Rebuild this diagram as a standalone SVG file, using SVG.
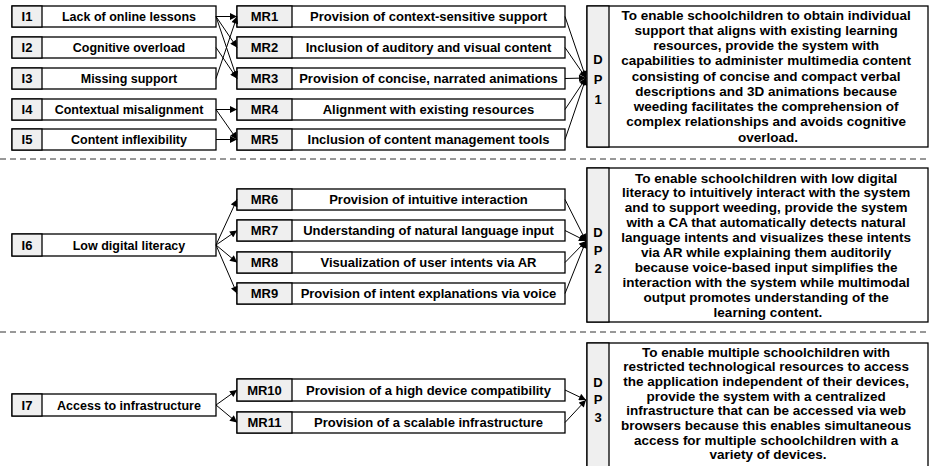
<svg xmlns="http://www.w3.org/2000/svg" width="930" height="466" viewBox="0 0 930 466">
  <style>
    text { font-family: "Liberation Sans", Arial, sans-serif; font-weight: bold; font-size: 13px; fill: #000; }
    .c { text-anchor: middle; }
    .it { font-size: 12.5px; }
    .dp { font-size: 13.5px; }
    .box { fill: #fff; stroke: #000; stroke-width: 1.3; }
    .id { fill: #efefef; stroke: #000; stroke-width: 1.3; }
    .sep { stroke: #333; stroke-width: 1; stroke-dasharray: 6 4; fill: none; }
    .con { stroke: #000; stroke-width: 1; fill: none; marker-end: url(#arr); }
  </style>
  <defs>
    <marker id="arr" viewBox="0 0 10 10" refX="10" refY="5" markerWidth="8" markerHeight="7" markerUnits="userSpaceOnUse" orient="auto">
      <path d="M0,0 L10,5 L0,10 z" fill="#000"/>
    </marker>
  </defs>
  <rect width="930" height="466" fill="#fff"/>

  <!-- section separators -->
  <line class="sep" x1="0" y1="159" x2="930" y2="159"/>
  <line class="sep" x1="0" y1="332" x2="930" y2="332"/>

  <!-- issues -->
  <g id="I1"><rect class="box" x="12" y="6" width="204" height="21"/><rect class="id" x="12" y="6" width="30" height="21"/><text class="c" x="27" y="21">I1</text><text class="c it" x="129" y="21">Lack of online lessons</text></g>
  <g id="I2"><rect class="box" x="12" y="37" width="204" height="21"/><rect class="id" x="12" y="37" width="30" height="21"/><text class="c" x="27" y="52">I2</text><text class="c it" x="129" y="52">Cognitive overload</text></g>
  <g id="I3"><rect class="box" x="12" y="68" width="204" height="21"/><rect class="id" x="12" y="68" width="30" height="21"/><text class="c" x="27" y="83">I3</text><text class="c it" x="129" y="83">Missing support</text></g>
  <g id="I4"><rect class="box" x="12" y="99" width="204" height="21"/><rect class="id" x="12" y="99" width="30" height="21"/><text class="c" x="27" y="114">I4</text><text class="c it" x="129" y="114">Contextual misalignment</text></g>
  <g id="I5"><rect class="box" x="12" y="129" width="204" height="21"/><rect class="id" x="12" y="129" width="30" height="21"/><text class="c" x="27" y="144">I5</text><text class="c it" x="129" y="144">Content inflexibility</text></g>
  <g id="I6"><rect class="box" x="12" y="234" width="204" height="22"/><rect class="id" x="12" y="234" width="30" height="22"/><text class="c" x="27" y="249.5">I6</text><text class="c it" x="129" y="249.5">Low digital literacy</text></g>
  <g id="I7"><rect class="box" x="12" y="394" width="204" height="22"/><rect class="id" x="12" y="394" width="30" height="22"/><text class="c" x="27" y="409.5">I7</text><text class="c it" x="129" y="409.5">Access to infrastructure</text></g>

  <!-- meta-requirements -->
  <g id="MR1"><rect class="box" x="237" y="6" width="328" height="21"/><rect class="id" x="237" y="6" width="55" height="21"/><text class="c" x="264.5" y="21">MR1</text><text class="c" x="428.5" y="21">Provision of context-sensitive support</text></g>
  <g id="MR2"><rect class="box" x="237" y="37" width="328" height="21"/><rect class="id" x="237" y="37" width="55" height="21"/><text class="c" x="264.5" y="52">MR2</text><text class="c" x="428.5" y="52">Inclusion of auditory and visual content</text></g>
  <g id="MR3"><rect class="box" x="237" y="68" width="328" height="21"/><rect class="id" x="237" y="68" width="55" height="21"/><text class="c" x="264.5" y="83">MR3</text><text class="c" x="428.5" y="83">Provision of concise, narrated animations</text></g>
  <g id="MR4"><rect class="box" x="237" y="99" width="328" height="21"/><rect class="id" x="237" y="99" width="55" height="21"/><text class="c" x="264.5" y="114">MR4</text><text class="c" x="428.5" y="114">Alignment with existing resources</text></g>
  <g id="MR5"><rect class="box" x="237" y="129" width="328" height="21"/><rect class="id" x="237" y="129" width="55" height="21"/><text class="c" x="264.5" y="144">MR5</text><text class="c" x="428.5" y="144">Inclusion of content management tools</text></g>
  <g id="MR6"><rect class="box" x="237" y="189" width="328" height="21"/><rect class="id" x="237" y="189" width="55" height="21"/><text class="c" x="264.5" y="204">MR6</text><text class="c" x="428.5" y="204">Provision of intuitive interaction</text></g>
  <g id="MR7"><rect class="box" x="237" y="220" width="328" height="21"/><rect class="id" x="237" y="220" width="55" height="21"/><text class="c" x="264.5" y="235">MR7</text><text class="c" x="428.5" y="235">Understanding of natural language input</text></g>
  <g id="MR8"><rect class="box" x="237" y="252" width="328" height="21"/><rect class="id" x="237" y="252" width="55" height="21"/><text class="c" x="264.5" y="267">MR8</text><text class="c" x="428.5" y="267">Visualization of user intents via AR</text></g>
  <g id="MR9"><rect class="box" x="237" y="283" width="328" height="21"/><rect class="id" x="237" y="283" width="55" height="21"/><text class="c" x="264.5" y="298">MR9</text><text class="c" x="428.5" y="298">Provision of intent explanations via voice</text></g>
  <g id="MR10"><rect class="box" x="237" y="379" width="328" height="22"/><rect class="id" x="237" y="379" width="55" height="22"/><text class="c" x="264.5" y="394.5">MR10</text><text class="c" x="428.5" y="394.5">Provision of a high device compatibility</text></g>
  <g id="MR11"><rect class="box" x="237" y="412" width="328" height="21"/><rect class="id" x="237" y="412" width="55" height="21"/><text class="c" x="264.5" y="427">MR11</text><text class="c" x="428.5" y="427">Provision of a scalable infrastructure</text></g>

  <!-- design principles -->
  <g id="DP1">
    <rect class="box" x="587" y="6" width="341" height="141"/><rect class="id" x="587" y="6" width="22" height="141"/>
    <text class="c" x="598" y="64">D</text><text class="c" x="598" y="84">P</text><text class="c" x="598" y="104">1</text>
    <text class="c dp" x="768">
      <tspan x="768" y="19.5">To enable schoolchildren to obtain individual</tspan>
      <tspan x="768" y="34.75">support that aligns with existing learning</tspan>
      <tspan x="768" y="50">resources, provide the system with</tspan>
      <tspan x="768" y="65.25">capabilities to administer multimedia content</tspan>
      <tspan x="768" y="80.5">consisting of concise and compact verbal</tspan>
      <tspan x="768" y="95.75">descriptions and 3D animations because</tspan>
      <tspan x="768" y="111">weeding facilitates the comprehension of</tspan>
      <tspan x="768" y="126.25">complex relationships and avoids cognitive</tspan>
      <tspan x="768" y="141.5">overload.</tspan>
    </text>
  </g>
  <g id="DP2">
    <rect class="box" x="587" y="168" width="341" height="154"/><rect class="id" x="587" y="168" width="22" height="154"/>
    <text class="c" x="598" y="236.5">D</text><text class="c" x="598" y="254.5">P</text><text class="c" x="598" y="272.5">2</text>
    <text class="c dp" x="768">
      <tspan x="768" y="182.5">To enable schoolchildren with low digital</tspan>
      <tspan x="768" y="197.4">literacy to intuitively interact with the system</tspan>
      <tspan x="768" y="212.3">and to support weeding, provide the system</tspan>
      <tspan x="768" y="227.2">with a CA that automatically detects natural</tspan>
      <tspan x="768" y="242.1">language intents and visualizes these intents</tspan>
      <tspan x="768" y="257">via AR while explaining them auditorily</tspan>
      <tspan x="768" y="271.9">because voice-based input simplifies the</tspan>
      <tspan x="768" y="286.8">interaction with the system while multimodal</tspan>
      <tspan x="768" y="301.7">output promotes understanding of the</tspan>
      <tspan x="768" y="316.6">learning content.</tspan>
    </text>
  </g>
  <g id="DP3">
    <rect class="box" x="587" y="343" width="341" height="130"/><rect class="id" x="587" y="343" width="22" height="130"/>
    <text class="c" x="598" y="386.5">D</text><text class="c" x="598" y="403.5">P</text><text class="c" x="598" y="421.5">3</text>
    <text class="c dp" x="768">
      <tspan x="768" y="356.5">To enable multiple schoolchildren with</tspan>
      <tspan x="768" y="371.2">restricted technological resources to access</tspan>
      <tspan x="768" y="385.9">the application independent of their devices,</tspan>
      <tspan x="768" y="400.6">provide the system with a centralized</tspan>
      <tspan x="768" y="415.3">infrastructure that can be accessed via web</tspan>
      <tspan x="768" y="430">browsers because this enables simultaneous</tspan>
      <tspan x="768" y="444.7">access for multiple schoolchildren with a</tspan>
      <tspan x="768" y="459.4">variety of devices.</tspan>
    </text>
  </g>

  <!-- connectors -->
  <g id="connectors">
    <line class="con" x1="216" y1="16.5" x2="237" y2="16.5"/>
    <line class="con" x1="216" y1="16.5" x2="237" y2="47.5"/>
    <line class="con" x1="216" y1="16.5" x2="237" y2="78.5"/>
    <line class="con" x1="216" y1="47.5" x2="237" y2="78.5"/>
    <line class="con" x1="216" y1="78.5" x2="237" y2="16.5"/>
    <line class="con" x1="216" y1="109.5" x2="237" y2="109.5"/>
    <line class="con" x1="216" y1="109.5" x2="237" y2="139.5"/>
    <line class="con" x1="216" y1="139.5" x2="237" y2="139.5"/>

    <line class="con" x1="565" y1="16.5" x2="586" y2="78"/>
    <line class="con" x1="565" y1="47.5" x2="586" y2="78"/>
    <line class="con" x1="565" y1="78.5" x2="586" y2="78"/>
    <line class="con" x1="565" y1="109.5" x2="586" y2="78"/>
    <line class="con" x1="565" y1="139.5" x2="586" y2="78"/>

    <line class="con" x1="216" y1="245" x2="237" y2="199.5"/>
    <line class="con" x1="216" y1="245" x2="237" y2="230.5"/>
    <line class="con" x1="216" y1="245" x2="237" y2="262.5"/>
    <line class="con" x1="216" y1="245" x2="237" y2="293.5"/>

    <line class="con" x1="565" y1="199.5" x2="586" y2="241"/>
    <line class="con" x1="565" y1="230.5" x2="586" y2="241"/>
    <line class="con" x1="565" y1="262.5" x2="586" y2="241"/>
    <line class="con" x1="565" y1="293.5" x2="586" y2="241"/>

    <line class="con" x1="216" y1="405" x2="237" y2="390"/>
    <line class="con" x1="216" y1="405" x2="237" y2="422.5"/>

    <line class="con" x1="565" y1="390" x2="586" y2="400"/>
    <line class="con" x1="565" y1="422.5" x2="586" y2="400"/>
  </g>
</svg>
